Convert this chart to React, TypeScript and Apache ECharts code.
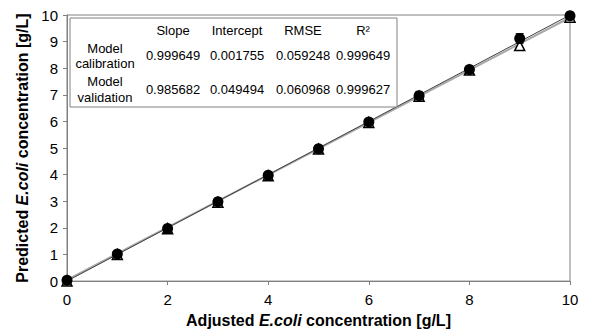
import React, { useEffect, useRef } from "react";
import * as echarts from "echarts";

const xValues = [0, 1, 2, 3, 4, 5, 6, 7, 8, 9, 10];
const calibration = [0.03, 1.02, 1.98, 2.98, 3.98, 4.97, 5.98, 6.97, 7.95, 9.12, 9.97];
const calibrationErr = [0.05, 0.05, 0.05, 0.05, 0.05, 0.05, 0.05, 0.05, 0.05, 0.18, 0.05];
const validation = [0.0, 1.0, 1.97, 2.96, 3.96, 4.96, 5.96, 6.95, 7.93, 8.85, 9.92];

const tableCols = ["Slope", "Intercept", "RMSE", "R²"];
const calibRow = ["0.999649", "0.001755", "0.059248", "0.999649"];
const validRow = ["0.985682", "0.049494", "0.060968", "0.999627"];
const calibFit = { slope: 0.999649, intercept: 0.001755 };
const validFit = { slope: 0.985682, intercept: 0.049494 };

export default function App() {
  const ref = useRef<HTMLDivElement>(null);
  useEffect(() => {
    if (!ref.current) return;
    const chart = echarts.init(ref.current, undefined, { renderer: "svg" });
    const font = "'Liberation Sans', Arial, sans-serif";
    const colX = [173, 237, 303, 363];
    const texts: any[] = [];
    const tstyle = (text: string) => ({ text, font: `13px ${font}`, fill: "#000", textAlign: "center", textVerticalAlign: "middle" });
    tableCols.forEach((c, i) => {
      texts.push({ type: "text", x: colX[i], y: 30, style: tstyle(c) });
      texts.push({ type: "text", x: colX[i], y: 55, style: tstyle(calibRow[i]) });
      texts.push({ type: "text", x: colX[i], y: 89, style: tstyle(validRow[i]) });
    });
    [["Model", 48], ["calibration", 63], ["Model", 81], ["validation", 97]].forEach(([t, y]) => {
      texts.push({ type: "text", x: 105, y: y as number, style: tstyle(t as string) });
    });

    const errSeries = {
      type: "custom",
      renderItem: (params: any, api: any) => {
        const x = api.value(0);
        const y = api.value(1);
        const e = api.value(2);
        const top = api.coord([x, y + e]);
        const bot = api.coord([x, y - e]);
        const w = 4;
        return {
          type: "group",
          children: [
            { type: "line", shape: { x1: top[0], y1: top[1], x2: bot[0], y2: bot[1] }, style: { stroke: "#000", lineWidth: 1 } },
            { type: "line", shape: { x1: top[0] - w, y1: top[1], x2: top[0] + w, y2: top[1] }, style: { stroke: "#000", lineWidth: 1 } },
            { type: "line", shape: { x1: bot[0] - w, y1: bot[1], x2: bot[0] + w, y2: bot[1] }, style: { stroke: "#000", lineWidth: 1 } },
          ],
        };
      },
      data: xValues.map((x, i) => [x, calibration[i], calibrationErr[i]]),
      z: 3,
    };

    const titleRich = {
      b: { fontWeight: "bold", fontSize: 16, fontFamily: font, color: "#000" },
      bi: { fontWeight: "bold", fontStyle: "italic", fontSize: 16, fontFamily: font, color: "#000" },
    };

    chart.setOption({
      animation: false,
      grid: { left: 67, right: 19, top: 15, bottom: 47, show: true, borderColor: "#808080", borderWidth: 1 },
      xAxis: {
        type: "value", min: 0, max: 10, interval: 2,
        axisLine: { lineStyle: { color: "#808080", width: 1 } },
        axisTick: { show: true, length: 4, lineStyle: { color: "#808080" } },
        splitLine: { show: false },
        axisLabel: { color: "#000", fontSize: 15, fontFamily: font, margin: 11 },
        name: "{b|Adjusted }{bi|E.coli}{b| concentration [g/L]}",
        nameLocation: "middle", nameGap: 25,
        nameTextStyle: { rich: titleRich },
      },
      yAxis: {
        type: "value", min: 0, max: 10, interval: 1,
        axisLine: { show: true, lineStyle: { color: "#808080", width: 1 } },
        axisTick: { show: true, length: 4, lineStyle: { color: "#808080" } },
        splitLine: { show: false },
        axisLabel: { color: "#000", fontSize: 15, fontFamily: font, margin: 9 },
        name: "{b|Predicted }{bi|E.coli}{b| concentration [g/L]}",
        nameLocation: "middle", nameGap: 33,
        nameTextStyle: { rich: titleRich },
      },
      series: [
        {
          type: "line", name: "Validation fit", symbol: "none",
          data: [[0, validFit.intercept], [10, validFit.slope * 10 + validFit.intercept]],
          lineStyle: { color: "#a8a8a8", width: 2 }, z: 1,
        },
        {
          type: "line", name: "Calibration fit", symbol: "none",
          data: [[0, calibFit.intercept], [10, calibFit.slope * 10 + calibFit.intercept]],
          lineStyle: { color: "#404040", width: 1 }, z: 2,
        },
        {
          type: "scatter", name: "Validation", symbol: "triangle", symbolSize: 10,
          data: xValues.map((x, i) => [x, validation[i]]),
          itemStyle: { color: "#fff", borderColor: "#000", borderWidth: 1.5, opacity: 1 }, z: 3,
        },
        errSeries,
        {
          type: "scatter", name: "Calibration", symbol: "circle", symbolSize: 11,
          data: xValues.map((x, i) => [x, calibration[i]]),
          itemStyle: { color: "#000", opacity: 1 }, z: 4,
        },
      ],
      graphic: [
        { type: "rect", shape: { x: 70, y: 18, width: 327, height: 89 }, style: { fill: "#fff", stroke: "#808080", lineWidth: 1 }, z: 10 },
        ...texts.map((t) => ({ ...t, z: 11 })),
      ],
    });
    return () => chart.dispose();
  }, []);
  return <div ref={ref} style={{ width: 589, height: 333, position: "absolute", left: 0, top: 0 }} />;
}
